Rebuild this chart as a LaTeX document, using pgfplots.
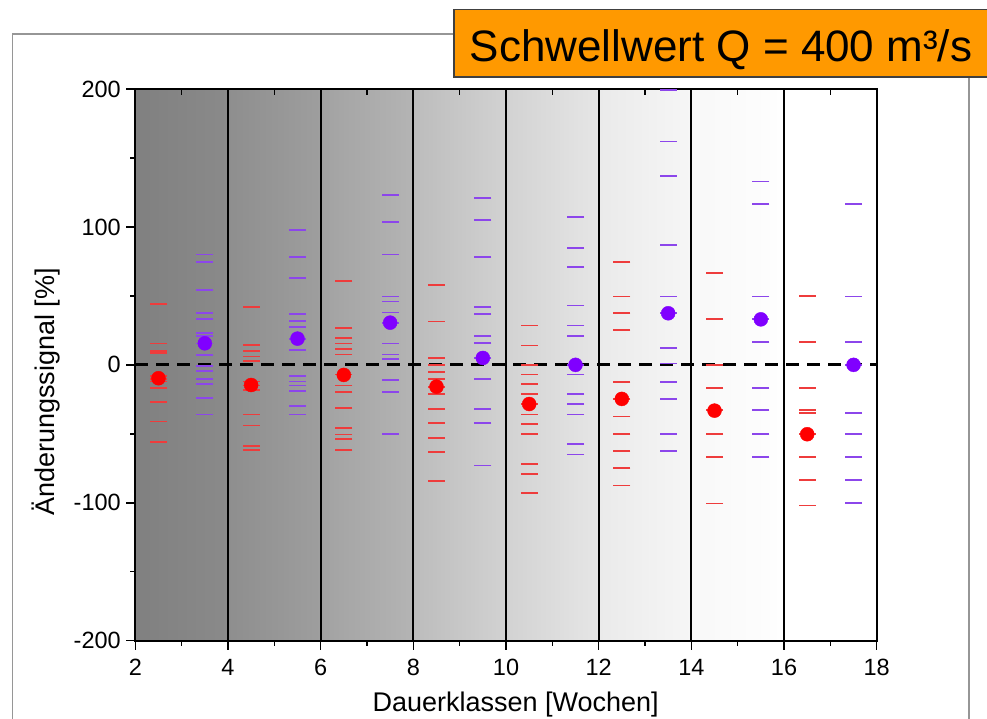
\documentclass[border=0pt]{standalone}
\usepackage{fontspec}
\setmainfont{Liberation Sans}
\usepackage{pgfplots}
\pgfplotsset{compat=1.18}
\definecolor{reddash}{RGB}{238,60,60}
\definecolor{purpdash}{RGB}{140,70,235}
\definecolor{reddot}{RGB}{255,0,0}
\definecolor{purpdot}{RGB}{128,0,255}
\definecolor{orangebox}{RGB}{255,153,0}
\definecolor{frame}{RGB}{150,150,150}
\begin{document}
\begin{tikzpicture}
\path[use as bounding box] (0pt,0pt) rectangle (987pt,718pt);
\draw[frame, line width=1.5pt] (12.6pt,-5pt) -- (12.6pt,684pt) -- (969pt,684pt) -- (969pt,-5pt);
\begin{axis}[
  axis on top,
  scale only axis, width=741.4pt, height=551.7pt,
  at={(135.3pt,77.3pt)}, anchor=south west,
  xmin=2, xmax=18, ymin=-200, ymax=200,
  xtick={2,4,...,18}, xticklabels={2,4,6,8,10,12,14,16,18},
  minor xtick={3,5,...,17},
  ytick={-200,-100,0,100,200}, yticklabels={-200,-100,0,100,200},
  minor ytick={-150,-50,50,150},
  xtick pos=bottom, ytick pos=left,
  tick align=outside,
  major tick length=9pt, minor tick length=5pt,
  every tick/.style={black, line width=1.5pt},
  axis line style={black, line width=2pt},
  ticklabel style={font=\fontsize{23.5}{28}\selectfont},
  xticklabel style={yshift=-6pt},
  yticklabel style={xshift=-2pt},
  /pgf/number format/assume math mode=true,
  label style={font=\fontsize{27}{32}\selectfont},
  xlabel={Dauerklassen [Wochen]},
  ylabel={Änderungssignal [\%]},
  xlabel style={at={(axis description cs:0.513,-0.1287)}, anchor=base},
  ylabel style={at={(axis description cs:-0.121,0.451)}, anchor=center},
]
\fill[left color={rgb,255:red,128;green,128;blue,128}, right color={rgb,255:red,138;green,138;blue,138}] (axis cs:2,-200) rectangle (axis cs:4,200);
\fill[left color={rgb,255:red,142;green,142;blue,142}, right color={rgb,255:red,158;green,158;blue,158}] (axis cs:4,-200) rectangle (axis cs:6,200);
\fill[left color={rgb,255:red,162;green,162;blue,162}, right color={rgb,255:red,180;green,180;blue,180}] (axis cs:6,-200) rectangle (axis cs:8,200);
\fill[left color={rgb,255:red,188;green,188;blue,188}, right color={rgb,255:red,210;green,210;blue,210}] (axis cs:8,-200) rectangle (axis cs:10,200);
\fill[left color={rgb,255:red,210;green,210;blue,210}, right color={rgb,255:red,230;green,230;blue,230}] (axis cs:10,-200) rectangle (axis cs:12,200);
\fill[left color={rgb,255:red,234;green,234;blue,234}, right color={rgb,255:red,246;green,246;blue,246}] (axis cs:12,-200) rectangle (axis cs:14,200);
\fill[left color={rgb,255:red,248;green,248;blue,248}, right color={rgb,255:red,254;green,254;blue,254}] (axis cs:14,-200) rectangle (axis cs:16,200);
% class separators
\addplot[black, line width=2pt, forget plot] coordinates {(4,-200) (4,200)};
\addplot[black, line width=2pt, forget plot] coordinates {(6,-200) (6,200)};
\addplot[black, line width=2pt, forget plot] coordinates {(8,-200) (8,200)};
\addplot[black, line width=2pt, forget plot] coordinates {(10,-200) (10,200)};
\addplot[black, line width=2pt, forget plot] coordinates {(12,-200) (12,200)};
\addplot[black, line width=2pt, forget plot] coordinates {(14,-200) (14,200)};
\addplot[black, line width=2pt, forget plot] coordinates {(16,-200) (16,200)};
% red dashes
\addplot[only marks, mark=-, mark size=8.5pt, color=reddash, mark options={line width=1.8pt}] table {
x y
2.5 44
2.5 15.5
2.5 10
2.5 8.5
2.5 -8
2.5 -10
2.5 -12
2.5 -17
2.5 -27
2.5 -41
2.5 -56
4.5 42
4.5 14.5
4.5 10
4.5 6
4.5 3
4.5 -12
4.5 -15
4.5 -18
4.5 -36
4.5 -44
4.5 -59
4.5 -62
6.5 61
6.5 26.5
6.5 19.5
6.5 15.5
6.5 11.5
6.5 7.5
6.5 -7
6.5 -15
6.5 -19.5
6.5 -31
6.5 -46
6.5 -50.5
6.5 -54
6.5 -62
8.5 58
8.5 31.5
8.5 5
8.5 0
8.5 -5
8.5 -10
8.5 -16
8.5 -21
8.5 -32
8.5 -42
8.5 -53
8.5 -63
8.5 -84
10.5 28.5
10.5 14
10.5 0
10.5 -7
10.5 -14
10.5 -21
10.5 -28.5
10.5 -36
10.5 -43
10.5 -50
10.5 -72
10.5 -79
10.5 -93
12.5 74.5
12.5 49.5
12.5 37.5
12.5 25
12.5 -12.5
12.5 -25
12.5 -37.5
12.5 -50
12.5 -62.5
12.5 -75
12.5 -87.5
14.5 66.5
14.5 33
14.5 0
14.5 -16.5
14.5 -33
14.5 -50
14.5 -67
14.5 -100.5
16.5 50
16.5 16.5
16.5 -16.5
16.5 -33
16.5 -35
16.5 -50
16.5 -67
16.5 -83.5
16.5 -102
};
% purple dashes
\addplot[only marks, mark=-, mark size=8.5pt, color=purpdash, mark options={line width=1.8pt}] table {
x y
3.5 80
3.5 74.5
3.5 54
3.5 37.5
3.5 33
3.5 23
3.5 21
3.5 15.5
3.5 7
3.5 -1
3.5 -4.5
3.5 -10
3.5 -14
3.5 -24
3.5 -36
5.5 97.5
5.5 78
5.5 63
5.5 37
5.5 32
5.5 27.5
5.5 19
5.5 10.5
5.5 -8
5.5 -12
5.5 -15
5.5 -19
5.5 -30
5.5 -36
7.5 123
7.5 103.5
7.5 80
7.5 49.5
7.5 46
7.5 38
7.5 30.5
7.5 15.5
7.5 7.5
7.5 4
7.5 -11
7.5 -19.5
7.5 -50
9.5 121
9.5 105
9.5 78
9.5 42
9.5 37
9.5 21
9.5 16
9.5 5
9.5 -10
9.5 -32
9.5 -42
9.5 -73
11.5 107
11.5 85
11.5 71
11.5 43
11.5 28.5
11.5 21
11.5 0
11.5 -7
11.5 -21
11.5 -28.5
11.5 -36
11.5 -57.5
11.5 -65
13.5 199
13.5 162
13.5 137
13.5 87
13.5 49.5
13.5 37.5
13.5 12.5
13.5 1
13.5 -12.5
13.5 -25
13.5 -50
13.5 -62.5
15.5 133
15.5 116.5
15.5 49.5
15.5 33
15.5 16.5
15.5 -16.5
15.5 -33
15.5 -50
15.5 -67
17.5 116.5
17.5 49.5
17.5 16.5
17.5 0
17.5 -35
17.5 -50
17.5 -67
17.5 -83.5
17.5 -100
};
% zero line
\addplot[black, line width=3pt, dash pattern=on 13pt off 8pt] coordinates {(2,0) (18,0)};
% means
\addplot[only marks, mark=*, mark size=7pt, mark options={draw=reddot, fill=reddot}] table {
x y
2.5 -9.7
4.5 -14.6
6.5 -7.3
8.5 -15.8
10.5 -28.4
12.5 -24.7
14.5 -33.2
16.5 -50.3
};
\addplot[only marks, mark=*, mark size=7pt, mark options={draw=purpdot, fill=purpdot}] table {
x y
3.5 15.6
5.5 19
7.5 30.6
9.5 5
11.5 0
13.5 37.4
15.5 33
17.5 0
};
\end{axis}
\begin{axis}[
  scale only axis, width=741.4pt, height=551.7pt,
  at={(135.3pt,77.3pt)}, anchor=south west,
  xmin=2, xmax=18, ymin=-200, ymax=200,
  xtick pos=top, xtick={3,5,...,17}, xticklabels={},
  ytick=\empty,
  tick align=inside, major tick length=6pt,
  every tick/.style={black, line width=1.5pt},
  axis line style={draw=none},
]
\addplot[draw=none] coordinates {(2,-200) (18,200)};
\end{axis}
\fill[orangebox] (454pt,641pt) rectangle (995pt,708.7pt);
\draw[black!75, line width=1.2pt] (995pt,641pt) -- (454pt,641pt) -- (454pt,708.7pt) -- (995pt,708.7pt);
\node[anchor=base, inner sep=0pt, font=\fontsize{44}{50}\selectfont] at (721pt,656.3pt) {Schwellwert Q = 400 m³/s};
\end{tikzpicture}
\end{document}
